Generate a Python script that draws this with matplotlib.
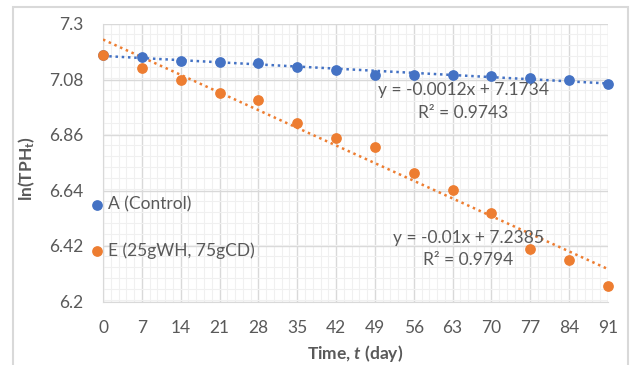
import numpy as np
import matplotlib
matplotlib.use("Agg")
import matplotlib.pyplot as plt
from matplotlib.patches import Rectangle
from matplotlib.ticker import MultipleLocator

plt.rcParams['font.family'] = ['Lato', 'DejaVu Sans']
plt.rcParams['mathtext.fontset'] = 'custom'
plt.rcParams['mathtext.rm'] = 'Lato:bold'
plt.rcParams['mathtext.it'] = 'Lato:bold:italic'

# data
days = [0, 7, 14, 21, 28, 35, 42, 49, 56, 63, 70, 77, 84, 91]
ln_a = [7.177, 7.168, 7.153, 7.149, 7.146, 7.128, 7.117, 7.099, 7.099, 7.096, 7.092, 7.084, 7.078, 7.061]
ln_e = [7.177, 7.127, 7.078, 7.027, 6.999, 6.906, 6.848, 6.813, 6.708, 6.641, 6.552, 6.410, 6.366, 6.262]
fit_a = (-0.0012, 7.1734, 0.9743)
fit_e = (-0.01, 7.2385, 0.9794)
yticks = [6.2, 6.42, 6.64, 6.86, 7.08, 7.3]
ytick_labels = ['6.2', '6.42', '6.64', '6.86', '7.08', '7.3']

blue = '#4472C4'
orange = '#ED7D31'
grey = '#595959'
fs = 12.5

fig = plt.figure(figsize=(6.35, 3.65), dpi=100)
ax = fig.add_axes([103/635, 1-301.5/365, 505/635, 277.5/365])

# chart border
fig.patches.append(Rectangle((13/635, -0.05), 615/635, 1.05-7/365, transform=fig.transFigure,
                             fill=False, edgecolor='#D9D9D9', linewidth=1.5))

x = np.array(days)
ax.scatter(days, ln_a, s=45, color=blue, zorder=4, clip_on=False, label='A (Control)')
ax.scatter(days, ln_e, s=45, color=orange, zorder=4, clip_on=False, label='E (25gWH, 75gCD)')
ax.plot(x, fit_a[0]*x + fit_a[1], color=blue, ls=(0, (1, 1.5)), lw=1.8, zorder=3)
ax.plot(x, fit_e[0]*x + fit_e[1], color=orange, ls=(0, (1, 1.5)), lw=1.8, zorder=3)

ax.text(64.9, 7.038, f'y = {fit_a[0]}x + {fit_a[1]}', ha='center', va='center', fontsize=fs, color=grey)
ax.text(64.9, 6.947, f'R² = {fit_a[2]}', ha='center', va='center', fontsize=fs, color=grey)
ax.text(65.8, 6.450, f'y = {fit_e[0]}x + {fit_e[1]}', ha='center', va='center', fontsize=fs, color=grey)
ax.text(65.8, 6.363, f'R² = {fit_e[2]}', ha='center', va='center', fontsize=fs, color=grey)

ax.set_xlim(0, 91)
ax.set_ylim(6.2, 7.3)
ax.set_xticks(days)
ax.set_yticks(yticks)
ax.set_yticklabels(ytick_labels)
ax.xaxis.set_minor_locator(MultipleLocator(1.4))
ax.yaxis.set_minor_locator(MultipleLocator(0.044))
ax.grid(which='major', color='#D9D9D9', lw=1)
ax.grid(which='minor', color='#F0F0F0', lw=0.8)
ax.set_axisbelow(True)
ax.tick_params(which='both', length=0)
ax.tick_params(axis='x', pad=13, labelsize=fs, labelcolor=grey)
ax.tick_params(axis='y', pad=14, labelsize=fs, labelcolor=grey)
for s in ['top', 'right']:
    ax.spines[s].set_visible(False)
for s in ['left', 'bottom']:
    ax.spines[s].set_color('#D9D9D9')

ax.set_xlabel(r'Time, $\mathit{t}$ (day)', fontsize=fs, fontweight='bold', color=grey, labelpad=5)
ax.set_ylabel(r'ln(TPH$_\mathrm{t}$)', fontsize=fs, fontweight='bold', color=grey)
ax.yaxis.set_label_coords(-0.13, 0.48)

leg = ax.legend(loc='upper left', bbox_to_anchor=(-0.035, 0.404), frameon=False, fontsize=fs,
                labelspacing=1.7, handlelength=0.6, handletextpad=0.3, borderaxespad=0,
                labelcolor=grey, scatterpoints=1)

fig.savefig('out.png', dpi=100)
